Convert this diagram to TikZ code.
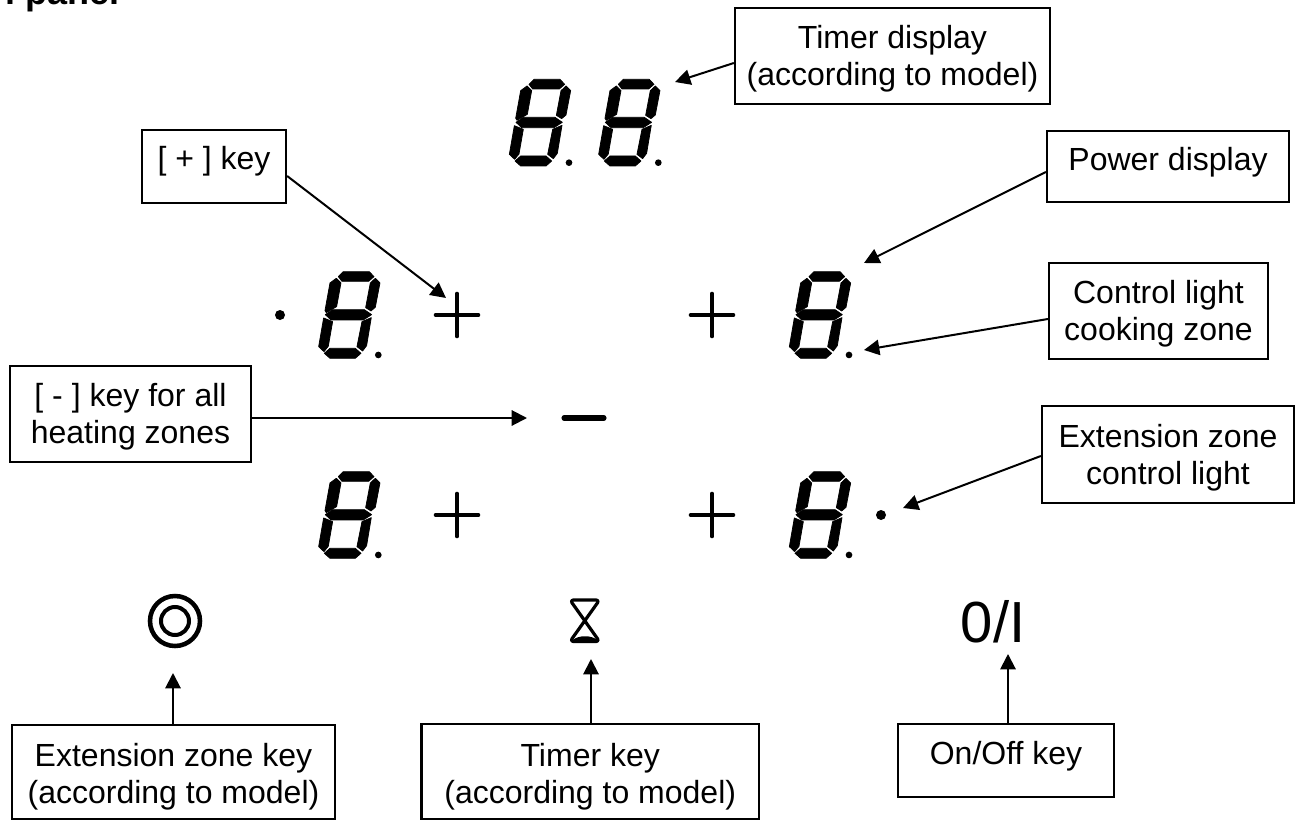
\documentclass[tikz,border=0pt]{standalone}
\usepackage{fontspec}
\setmainfont{Liberation Sans}
\usetikzlibrary{arrows.meta}
\tikzset{
  lbl/.style={draw=black,line width=1.7pt,fill=white,inner sep=0pt,align=center,font=\fontsize{24pt}{27.75pt}\selectfont},
  arr/.style={line width=1.5pt,-{Triangle[length=11.5pt,width=11.5pt]}},
  seg/.style={fill=black,draw=black,line width=0.55pt,line join=round},
  sym/.style={draw=black,line cap=round,line width=3.5pt},
}
\newcommand{\twol}[4]{\raisebox{0pt}[#1pt][#2pt]{\begin{tabular}[t]{@{}c@{}}#3\\#4\end{tabular}}}
\newcommand{\sevenseg}[2]{%
  \begin{scope}[shift={(#1,#2)},x=0.25pt,y=-0.25pt]
    \filldraw[seg] (147,73)--(162,58)--(240,58)--(254,73)--(238,87)--(158,87)--cycle;
    \filldraw[seg] (258,78)--(272,92)--(258,165)--(245,176)--(229,166)--(243,92)--cycle;
    \filldraw[seg] (141,78)--(155,92)--(142,163)--(111,181)--(107,175)--(122,92)--cycle;
    \filldraw[seg] (108,187)--(130,172)--(225,172)--(247,187)--(222,203)--(125,203)--cycle;
    \filldraw[seg] (103,197)--(130,208)--(117,282)--(104,298)--(88,283)--cycle;
    \filldraw[seg] (246,196)--(232,280)--(220,296)--(203,283)--(218,208)--cycle;
    \filldraw[seg] (105,303)--(122,288)--(198,288)--(215,303)--(198,318)--(122,318)--cycle;
    \fill (267,308) circle[radius=10];
  \end{scope}}
\newcommand{\plussign}[2]{%
  \draw[sym] (#1-21,#2)--(#1+21,#2) (#1,#2-21)--(#1,#2+21);}
\begin{document}
\begin{tikzpicture}[x=0.75pt,y=-0.75pt]
\useasboundingbox (0,0) rectangle (1295,820);
\fill[white] (0,0) rectangle (1295,820);
\node[anchor=base west,inner sep=0pt,font=\fontsize{27pt}{30pt}\selectfont\bfseries] (title) at (5,5) {l panel};
% displays
\sevenseg{480}{60}
\sevenseg{569.3}{60}
\sevenseg{289.3}{252.3}
\sevenseg{760}{252.3}
\sevenseg{289.3}{452.3}
\sevenseg{760}{452.3}
\fill (280,315) circle[radius=5];
\fill (881,515) circle[radius=5];
% keys
\plussign{457}{315}
\plussign{712}{315}
\plussign{457}{515}
\plussign{712}{515}
\draw[sym,line width=3.8pt] (564,418)--(604,418);
\draw[line width=3.4pt] (175,621) circle[radius=25];
\draw[line width=3pt] (175,621) circle[radius=14];
\draw[line width=2.4pt,line join=round,rounded corners=2.5pt] (570,600)--(599.5,600)--(570,641.5)--(599.5,641.5)--cycle;
\fill (573,640) .. controls (578,635) and (592,635) .. (597,640) -- cycle;
\node[anchor=base,inner sep=0pt,font=\fontsize{43.5pt}{44pt}\selectfont] (onoffsym) at (993,642) {0/I};
% labels
\node[lbl,minimum width=315*0.75pt] (tbox) at (892.5,56) {\twol{30.75}{41.25}{Timer display}{(according to model)}};
\node[lbl,text height=30pt,text depth=23.25pt,minimum width=242*0.75pt] (pbox) at (1168,166.5) {Power display};
\node[lbl,minimum width=219*0.75pt] (cbox) at (1158.5,311) {\twol{30}{42}{Control light}{cooking zone}};
\node[lbl,minimum width=252*0.75pt] (ebox) at (1168,454.5) {\twol{30.75}{42}{Extension zone}{control light}};
\node[lbl,text height=30pt,text depth=24.75pt,minimum width=144*0.75pt] (plusbox) at (214,166.5) {[ + ] key};
\node[lbl,minimum width=241*0.75pt] (minusbox) at (130.5,414) {\twol{30}{42}{[ - ] key for all}{heating zones}};
\node[lbl,minimum width=323*0.75pt] (ekbox) at (173.5,772) {\twol{30.75}{39.75}{Extension zone key}{(according to model)}};
\node[lbl,minimum width=337.5*0.75pt] (tkbox) at (590.25,771.5) {\twol{31.5}{39.75}{Timer key}{(according to model)}};
\node[lbl,text height=30pt,text depth=24.75pt,minimum width=216*0.75pt] (okbox) at (1006,760.5) {On/Off key};
% targets
\coordinate (tT) at (675,82);
\coordinate (tP) at (864,263);
\coordinate (tC) at (864,350);
\coordinate (tE) at (903,508);
\coordinate (tPl) at (446,298);
\coordinate (tM) at (527,418);
\coordinate (tEk) at (173,673);
\coordinate (tTk) at (591,659);
\coordinate (tOk) at (1008,654);
% connectors
\draw[arr] ([shift={(0,7)}]tbox.west) -- (tT);
\draw[arr] ([shift={(0,5.5)}]pbox.west) -- (tP);
\draw[arr] ([shift={(0,8)}]cbox.west) -- (tC);
\draw[arr] ([shift={(0,1.5)}]ebox.west) -- (tE);
\draw[arr] ([shift={(0,9.5)}]plusbox.east) -- (tPl);
\draw[arr] ([shift={(0,4)}]minusbox.east) -- (tM);
\draw[arr] (tEk |- ekbox.north) -- (tEk);
\draw[arr] (tTk |- tkbox.north) -- (tTk);
\draw[arr] (tOk |- okbox.north) -- (tOk);
\end{tikzpicture}
\end{document}
